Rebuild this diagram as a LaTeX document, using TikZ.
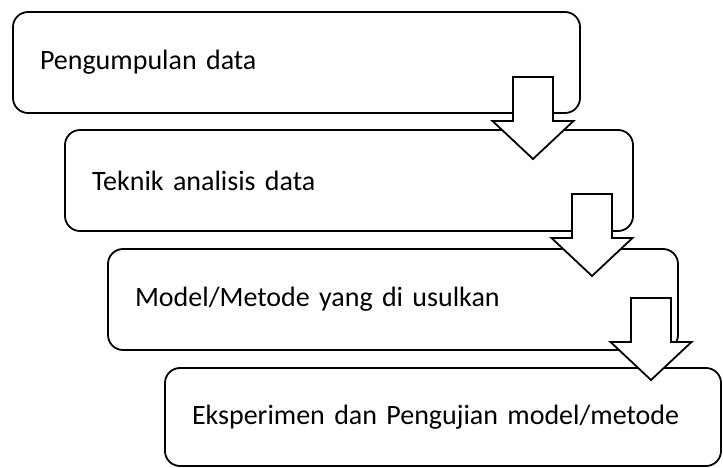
\documentclass[tikz,border=0pt]{standalone}
\usepackage{fontspec}
\setmainfont{Carlito}
\usepackage{tikz}

\tikzset{
    stepbox/.style={draw, line width=1.8pt, rounded corners=15pt, fill=white,
        anchor=north west, outer sep=0pt, minimum height=101pt, inner xsep=27pt,
        align=left, font=\fontsize{28}{32}\selectfont},
    blockarrow/.style={draw, line width=1.8pt, fill=white, line join=miter}
}

\begin{document}
\begin{tikzpicture}[x=1pt, y=-1pt]
    \useasboundingbox (0,0) rectangle (723,468);

    % Draw the four steps
    \node[stepbox, text width=513pt] (kumpul) at (13,12) {Pengumpulan data};
    \node[stepbox, text width=514pt] (analisis) at (65,130) {Teknik analisis data};
    \node[stepbox, text width=516pt] (model) at (108,249) {Model/Metode yang di usulkan};
    \node[stepbox, text width=502pt, minimum height=98pt] (uji) at (165,368) {Eksperimen dan Pengujian model/metode};

    % Draw the block arrows between the steps
    \foreach \i/\tx/\ty in {1/533/159, 2/592/276, 3/651/380} {
        \coordinate (tip\i) at (\tx,\ty);
        \draw[blockarrow] (tip\i) -- ++(-40.5,-38) -- ++(20.5,0) -- ++(0,-44) -- ++(40,0)
            -- ++(0,44) -- ++(20.5,0) -- cycle;
    }

\end{tikzpicture}
\end{document}
